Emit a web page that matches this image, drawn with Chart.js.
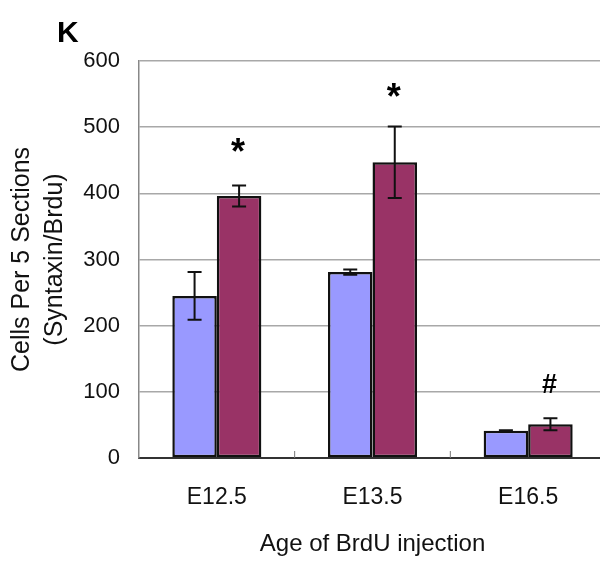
<!DOCTYPE html>
<html>
<head>
<meta charset="utf-8">
<script src="https://cdn.jsdelivr.net/npm/chart.js@4/dist/chart.umd.min.js"></script>
<style>
  html, body { margin: 0; padding: 0; background: #fff; overflow: hidden; }
  #wrap { width: 600px; height: 563px; overflow: hidden; position: relative; }
</style>
</head>
<body>
<div id="wrap"><canvas id="chart" width="606" height="563"></canvas></div>
<script>
// data
const ages = ["E12.5", "E13.5", "E16.5"];
const controlMeans = [245, 281, 41];
const controlErrs = [36, 4, 1];
const treatedMeans = [396, 447, 51];
const treatedErrs = [16, 54, 9];
const marks = ["*", "*", "#"];
const markLevels = [460, 543, 110];
const yTicks = [0, 100, 200, 300, 400, 500, 600];

const FONT = "'Liberation Sans', Arial, sans-serif";
const errs = [controlErrs, treatedErrs];

// error bars + significance marks + inner x tick marks
const extras = {
  id: "extras",
  afterDatasetsDraw(chart) {
    const ctx = chart.ctx;
    const y = chart.scales.y;
    const x = chart.scales.x;
    ctx.save();
    ctx.strokeStyle = "#111";
    ctx.lineWidth = 2;
    chart.data.datasets.forEach((ds, di) => {
      chart.getDatasetMeta(di).data.forEach((bar, i) => {
        const v = ds.data[i];
        const e = errs[di][i];
        const top = y.getPixelForValue(v + e);
        const bot = y.getPixelForValue(v - e);
        ctx.beginPath();
        ctx.moveTo(bar.x, top); ctx.lineTo(bar.x, bot);
        ctx.moveTo(bar.x - 7, top); ctx.lineTo(bar.x + 7, top);
        ctx.moveTo(bar.x - 7, bot); ctx.lineTo(bar.x + 7, bot);
        ctx.stroke();
      });
    });
    // marks above the treated bars
    const treated = chart.getDatasetMeta(1).data;
    ctx.fillStyle = "#000";
    ctx.textAlign = "center";
    ctx.textBaseline = "middle";
    marks.forEach((m, i) => {
      ctx.font = (m === "*" ? "bold 36px " : "bold 27px ") + FONT;
      ctx.fillText(m, treated[i].x - 1, y.getPixelForValue(markLevels[i]));
    });
    // small ticks between categories, pointing up into the plot
    const step = x.getPixelForValue(1) - x.getPixelForValue(0);
    ctx.strokeStyle = "#777";
    ctx.lineWidth = 1;
    for (let i = 1; i < ages.length; i++) {
      const px = x.getPixelForValue(i) - step / 2;
      ctx.beginPath();
      ctx.moveTo(px, chart.chartArea.bottom);
      ctx.lineTo(px, chart.chartArea.bottom - 7);
      ctx.stroke();
    }
    // panel letter
    ctx.font = "bold 30px " + FONT;
    ctx.textAlign = "left";
    ctx.textBaseline = "alphabetic";
    ctx.fillText("K", 57, 42);
    ctx.restore();
  }
};

new Chart(document.getElementById("chart"), {
  type: "bar",
  data: {
    labels: ages,
    datasets: [
      { label: "Control", data: controlMeans, backgroundColor: "#9999FF",
        borderColor: "#111", borderWidth: 2.5, borderSkipped: false },
      { label: "Treated", data: treatedMeans, backgroundColor: "#993366",
        borderColor: "#111", borderWidth: 2.5, borderSkipped: false }
    ]
  },
  options: {
    responsive: false,
    animation: false,
    layout: { padding: { top: 61, right: 0, bottom: 0, left: 0 } },
    datasets: { bar: { categoryPercentage: 0.572, barPercentage: 1.0 } },
    plugins: { legend: { display: false }, tooltip: { enabled: false } },
    scales: {
      x: {
        grid: { display: false, drawTicks: false },
        border: { color: "#333", width: 2 },
        ticks: { color: "#111", padding: 26, font: { family: FONT, size: 23 } },
        title: {
          display: true, text: "Age of BrdU injection", color: "#111",
          font: { family: FONT, size: 24 }, padding: { top: 0, bottom: 4 }
        },
        afterFit: s => { s.height = 105; }
      },
      y: {
        min: 0, max: 600,
        afterBuildTicks: s => { s.ticks = yTicks.map(v => ({ value: v })); },
        grid: { color: "#a8a8a8", lineWidth: 1.5, drawTicks: false },
        border: { color: "#888", width: 1.5 },
        ticks: { color: "#111", padding: 19, font: { family: FONT, size: 22 } },
        title: {
          display: true, text: ["Cells Per 5 Sections", "(Syntaxin/Brdu)"], color: "#111",
          font: { family: FONT, size: 25, lineHeight: 1.32 }, padding: { top: 6, bottom: 0 }
        },
        afterFit: s => { s.width = 139; }
      }
    }
  },
  plugins: [extras]
});
</script>
</body>
</html>
